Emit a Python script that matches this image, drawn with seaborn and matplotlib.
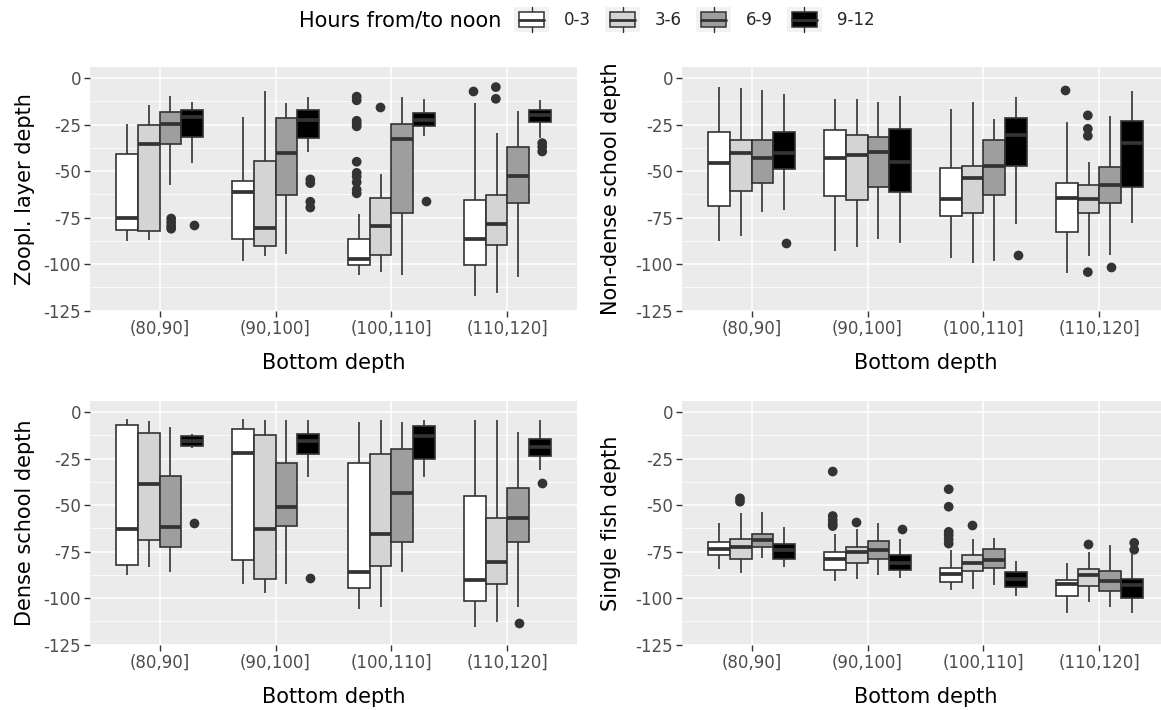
import numpy as np
import pandas as pd
import matplotlib
matplotlib.use("Agg")
import matplotlib.pyplot as plt
import seaborn as sns
from matplotlib.patches import Rectangle, Patch
from matplotlib.lines import Line2D
from matplotlib.legend_handler import HandlerBase

# ---------------- data ----------------
bins = ["(80,90]", "(90,100]", "(100,110]", "(110,120]"]
hours = ["0-3", "3-6", "6-9", "9-12"]
fills = ["#FFFFFF", "#D4D4D4", "#9E9E9E", "#000000"]

# five-number summaries [lower whisker, Q1, median, Q3, upper whisker] per bin, per hour group
zoopl_box = [
    [[-87.6, -81.8, -75.2, -40.8, -24.6], [-86.9, -82.4, -35.6, -25.2, -14.4],
     [-57.6, -35.6, -24.6, -18.5, -9.5], [-45.9, -31.8, -20.7, -17.4, -13.0]],
    [[-98.4, -86.3, -61.2, -55.4, -21.2], [-95.9, -90.5, -80.4, -44.6, -7.2],
     [-94.8, -62.9, -40.5, -21.6, -13.5], [-40.0, -32.4, -22.5, -17.4, -10.4]],
    [[-106.1, -100.4, -97.1, -86.3, -73.2], [-104.3, -95.3, -79.7, -64.7, -51.8],
     [-105.6, -72.8, -32.7, -24.6, -10.3], [-31.1, -25.7, -22.8, -18.9, -11.2]],
    [[-116.9, -100.4, -86.3, -65.6, -13.5], [-115.6, -89.6, -78.6, -62.9, -29.3],
     [-107.0, -67.1, -52.7, -37.2, -17.6], [-32.4, -23.9, -19.8, -17.1, -12.0]],
]
zoopl_out = [
    [[], [], [-75.5, -77.5, -79.5, -81.0], [-79.1]],
    [[], [], [], [-54.5, -56.5, -66.5, -69.6]],
    [[-10.0, -12.0, -23.0, -24.5, -26.0, -45.0, -51.0, -53.0, -56.0, -60.0, -62.0], [-15.8], [], [-66.0]],
    [[-7.2], [-4.9, -11.2], [], [-35.0, -37.0, -39.5]],
]

nondense_box = [
    [[-87.6, -68.7, -45.9, -28.8, -4.9], [-85.1, -60.6, -40.5, -33.3, -5.4],
     [-71.9, -56.3, -43.2, -33.3, -6.3], [-71.0, -48.9, -40.5, -28.8, -8.6]],
    [[-93.2, -63.5, -42.8, -28.2, -11.2], [-90.8, -65.3, -41.4, -30.9, -11.3],
     [-86.7, -58.5, -39.9, -31.5, -13.0], [-88.5, -61.5, -45.3, -27.5, -9.9]],
    [[-96.6, -74.3, -65.1, -48.2, -16.5], [-99.3, -72.3, -54.0, -47.1, -13.1],
     [-98.4, -62.9, -47.1, -33.3, -22.1], [-78.2, -47.3, -30.6, -21.6, -10.4]],
    [[-104.9, -82.7, -64.7, -56.3, -23.7], [-95.9, -72.8, -65.1, -57.6, -45.0],
     [-95.3, -67.4, -57.6, -48.0, -20.3], [-77.7, -58.8, -34.7, -23.0, -7.2]],
]
nondense_out = [
    [[], [], [], [-88.5]],
    [[], [], [], []],
    [[], [], [], [-95.0]],
    [[-6.3], [-20.1, -27.3, -31.1, -104.3], [-101.6], []],
]

dense_box = [
    [[-87.4, -82.0, -62.9, -7.2, -3.8], [-83.3, -68.9, -38.8, -11.3, -4.7],
     [-86.0, -72.5, -62.0, -34.2, -8.1], [-19.4, -18.5, -15.8, -13.1, -11.9]],
    [[-92.3, -79.7, -21.8, -9.0, -3.8], [-97.3, -89.9, -63.1, -12.2, -4.5],
     [-92.3, -61.3, -51.3, -27.5, -4.5], [-35.1, -22.5, -15.8, -11.9, -4.5]],
    [[-105.8, -94.6, -86.0, -27.5, -5.4], [-104.9, -82.9, -65.8, -22.5, -4.5],
     [-86.0, -69.8, -43.7, -20.0, -5.4], [-35.1, -25.2, -13.1, -7.4, -4.5]],
    [[-115.6, -101.3, -90.5, -45.0, -4.5], [-112.9, -92.3, -80.6, -57.2, -4.5],
     [-105.0, -69.8, -56.7, -40.6, -11.0], [-31.1, -23.4, -18.9, -14.6, -4.5]],
]
dense_out = [
    [[], [], [], [-59.9]],
    [[], [], [], [-89.2]],
    [[], [], [], []],
    [[], [], [-113.3], [-37.9]],
]

single_box = [
    [[-84.2, -77.0, -73.4, -69.8, -59.4], [-86.5, -78.8, -72.5, -68.0, -54.5],
     [-78.2, -72.8, -68.9, -65.3, -53.6], [-83.3, -78.8, -73.9, -71.0, -61.7]],
    [[-90.8, -84.7, -79.1, -75.5, -65.3], [-89.9, -81.1, -75.5, -72.8, -63.1],
     [-87.8, -78.8, -73.9, -69.4, -59.5], [-89.0, -84.7, -80.9, -77.0, -68.3]],
    [[-95.5, -91.4, -86.9, -83.6, -73.9], [-95.0, -85.6, -80.9, -77.0, -68.5],
     [-93.2, -83.8, -79.3, -73.7, -67.6], [-99.1, -94.1, -89.9, -86.0, -80.2]],
    [[-108.1, -98.9, -92.6, -90.1, -80.9], [-102.2, -93.7, -87.8, -84.5, -75.2],
     [-104.9, -96.2, -91.0, -85.4, -71.6], [-108.1, -99.8, -93.2, -89.6, -76.4]],
]
single_out = [
    [[], [-46.4, -48.2], [], []],
    [[-32.0, -55.9, -58.1, -59.9, -61.3], [-59.0], [], [-63.1]],
    [[-41.5, -50.9, -64.4, -66.2, -68.5, -70.7], [-60.8], [], []],
    [[], [-71.0], [], [-70.3, -74.0]],
]

ylabels = ["Zoopl. layer depth", "Non-dense school depth", "Dense school depth", "Single fish depth"]
yticks = [0, -25, -50, -75, -100, -125]
xlabel = "Bottom depth"
legend_title = "Hours from/to noon"


def to_long(nested):
    rows = []
    for bi, b in enumerate(bins):
        for hi, h in enumerate(hours):
            for v in nested[bi][hi]:
                rows.append({"bin": b, "hour": h, "value": v})
    return pd.DataFrame(rows, columns=["bin", "hour", "value"])


# ---------------- style ----------------
sns.set_theme(style="darkgrid")
plt.rcParams["font.family"] = ["DejaVu Sans"]
plt.rcParams["axes.unicode_minus"] = False

W, H = 1161, 710
fig = plt.figure(figsize=(W / 100, H / 100), dpi=100)
fig.patch.set_facecolor("white")

panel_w, panel_h = 487, 244
positions = [(90, 67), (682, 67), (90, 401), (682, 401)]  # left, top in px
ylab_x = [-0.1325, -0.1458, -0.1325, -0.1458]
boxes = [zoopl_box, nondense_box, dense_box, single_box]
outs = [zoopl_out, nondense_out, dense_out, single_out]

line_c = "#333333"
for i in range(4):
    lx, ty = positions[i]
    ax = fig.add_axes([lx / W, 1 - (ty + panel_h) / H, panel_w / W, panel_h / H])
    ax.set_facecolor("#EBEBEB")
    dfb = to_long(boxes[i])
    dfo = to_long(outs[i])
    sns.boxplot(data=dfb, x="bin", y="value", hue="hour", order=bins, hue_order=hours,
                palette=fills, saturation=1, width=0.75, gap=0, whis=np.inf,
                showfliers=False, linecolor=line_c, linewidth=1.2,
                medianprops={"linewidth": 2.7}, capprops={"visible": False},
                legend=False, ax=ax)
    sns.stripplot(data=dfo, x="bin", y="value", hue="hour", order=bins, hue_order=hours,
                  dodge=True, jitter=False, palette=[line_c] * 4, size=7,
                  linewidth=0, legend=False, ax=ax, zorder=5)
    ax.set_xlim(-0.6, 3.6)
    ax.set_ylim(-125.2, 5.9)
    ax.set_yticks(yticks)
    ax.set_yticklabels([str(t) for t in yticks])
    ax.set_yticks([-12.5, -37.5, -62.5, -87.5, -112.5], minor=True)
    ax.set_xticks(range(len(bins)))
    ax.set_xticklabels(bins)
    ax.grid(which="major", color="white", linewidth=1.1)
    ax.grid(which="minor", axis="y", color="white", linewidth=0.55)
    ax.set_axisbelow(True)
    for s in ax.spines.values():
        s.set_visible(False)
    ax.tick_params(axis="both", which="major", length=4, width=1, color=line_c,
                   labelcolor="#4D4D4D", labelsize=12, pad=2.5,
                   bottom=True, left=True)
    ax.tick_params(axis="both", which="minor", length=0)
    ax.set_xlabel(xlabel, fontsize=15, color="black", va="center")
    ax.xaxis.set_label_coords(0.5, -0.215)
    ax.set_ylabel(ylabels[i], fontsize=15, color="black", va="center")
    ax.yaxis.set_label_coords(ylab_x[i], 0.5)


# ---------------- legend ----------------
class BoxKeyHandler(HandlerBase):
    def create_artists(self, legend, orig_handle, xdescent, ydescent, width, height, fontsize, trans):
        x0, y0 = -xdescent, -ydescent
        bg = Rectangle((x0, y0), width, height, facecolor="#F2F2F2", edgecolor="none", transform=trans)
        cx = x0 + width / 2
        bw, bh = width * 0.72, height * 0.62
        wh = Line2D([cx, cx], [y0, y0 + height], color=line_c, lw=1.0, transform=trans)
        bx = Rectangle((cx - bw / 2, y0 + (height - bh) / 2), bw, bh,
                       facecolor=orig_handle.get_facecolor(), edgecolor=line_c, lw=1.1, transform=trans)
        md = Line2D([cx - bw / 2, cx + bw / 2], [y0 + height / 2] * 2, color=line_c, lw=2.0, transform=trans)
        return [bg, wh, bx, md]


handles = [Patch(facecolor=c) for c in fills]
fig.legend(handles, hours, loc="center left", bbox_to_anchor=(514 / W, 1 - 19.5 / H),
           ncol=4, frameon=False, borderpad=0, borderaxespad=0, handlelength=2.1,
           handleheight=1.92, handletextpad=0.9, columnspacing=0.84, fontsize=12,
           handler_map={Patch: BoxKeyHandler()})
fig.text(501 / W, 1 - 20 / H, legend_title, ha="right", va="center", fontsize=15, color="black")

fig.savefig("out.png", dpi=100, facecolor="white")
